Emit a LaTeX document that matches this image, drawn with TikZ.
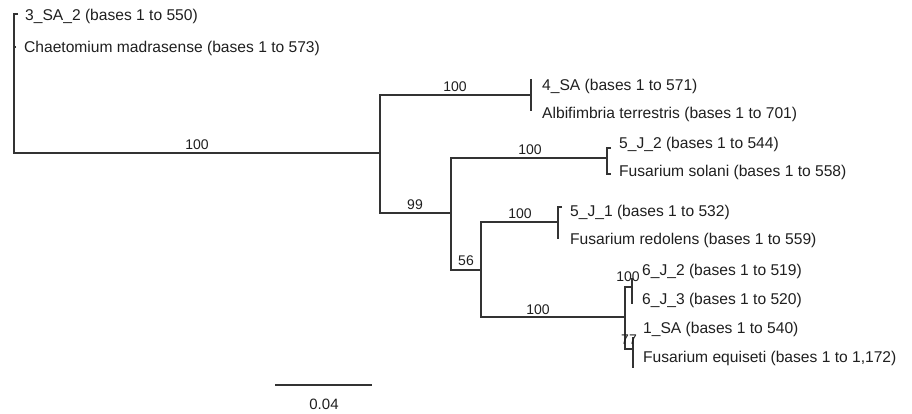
\documentclass[tikz,border=0pt]{standalone}
\usepackage{fontspec}
\setmainfont{Liberation Sans}
\begin{document}
\begin{tikzpicture}[x=1pt,y=-1pt,
  br/.style={draw=black!80,line width=1.2pt,line cap=butt},
  leaf/.style={anchor=west,inner sep=0pt,text=black!88,font=\fontsize{15.6}{18}\selectfont},
  blab/.style={inner sep=0pt,text=black!88,font=\fontsize{14}{16}\selectfont}]
\useasboundingbox (0,0) rectangle (912,414);
% internal nodes
\coordinate (R) at (14,153);
\coordinate (A) at (380,153);
\coordinate (B) at (531,95);
\coordinate (C) at (451,213);
\coordinate (D) at (607,158);
\coordinate (E) at (481,270);
\coordinate (F) at (558,222);
\coordinate (G) at (625,317);
\coordinate (H) at (632,287);
\coordinate (I) at (633,349);
% tips
\coordinate (t3SA2) at (18,14);
\coordinate (tCh) at (16,47);
\coordinate (t4SA) at (531,79);
\coordinate (tAl) at (531,111);
\coordinate (t5J2) at (611,148);
\coordinate (tFs) at (611,174);
\coordinate (t5J1) at (562,207);
\coordinate (tFr) at (558,239);
\coordinate (t6J2) at (632,278);
\coordinate (t6J3) at (632,304);
\coordinate (t1SA) at (633,337);
\coordinate (tFe) at (633,368);
% branches
\draw[br] (t3SA2) -| (R) -- (A);
\draw[br] (tCh) -- (R |- tCh);
\draw[br] (B) -| (A) |- (C);
\draw[br] (t4SA) -- (tAl);
\draw[br] (D) -| (C) |- (E);
\draw[br] (t5J2) -| (D) |- (tFs);
\draw[br] (F) -| (E) |- (G);
\draw[br] (t5J1) -| (F) -- (tFr);
\draw[br] (H) -| (G) |- (I);
\draw[br] (t6J2) -- (t6J3);
\draw[br] (t1SA) -- (tFe);
% branch labels
\node[blab] (l1) at (197,145) {100};
\node[blab] (l2) at (455,87) {100};
\node[blab] (l3) at (415,205) {99};
\node[blab] (l4) at (530,150) {100};
\node[blab] (l5) at (466,261) {56};
\node[blab] (l6) at (520,214) {100};
\node[blab] (l7) at (538,310) {100};
\node[blab] (l8) at (628,277) {100};
\node[blab] (l9) at (629,340) {77};
% leaves
\node[leaf] (n1) at (25,16) {3\_SA\_2 (bases 1 to 550)};
\node[leaf] (n2) at (24,48) {Chaetomium madrasense (bases 1 to 573)};
\node[leaf] (n3) at (542,86) {4\_SA (bases 1 to 571)};
\node[leaf] (n4) at (542,114) {Albifimbria terrestris (bases 1 to 701)};
\node[leaf] (n5) at (619,144) {5\_J\_2 (bases 1 to 544)};
\node[leaf] (n6) at (619,172) {Fusarium solani (bases 1 to 558)};
\node[leaf] (n7) at (570,212) {5\_J\_1 (bases 1 to 532)};
\node[leaf] (n8) at (570,240) {Fusarium redolens (bases 1 to 559)};
\node[leaf] (n9) at (642,271) {6\_J\_2 (bases 1 to 519)};
\node[leaf] (n10) at (642,300) {6\_J\_3 (bases 1 to 520)};
\node[leaf] (n11) at (643,329) {1\_SA (bases 1 to 540)};
\node[leaf] (n12) at (643,358) {Fusarium equiseti (bases 1 to 1,172)};
% scale bar
\coordinate (s1) at (275,385);
\coordinate (s2) at (372,385);
\draw[br] (s1) -- (s2);
\node[blab,font=\fontsize{15}{17}\selectfont] (sl) at (324,404) {0.04};
\end{tikzpicture}
\end{document}
